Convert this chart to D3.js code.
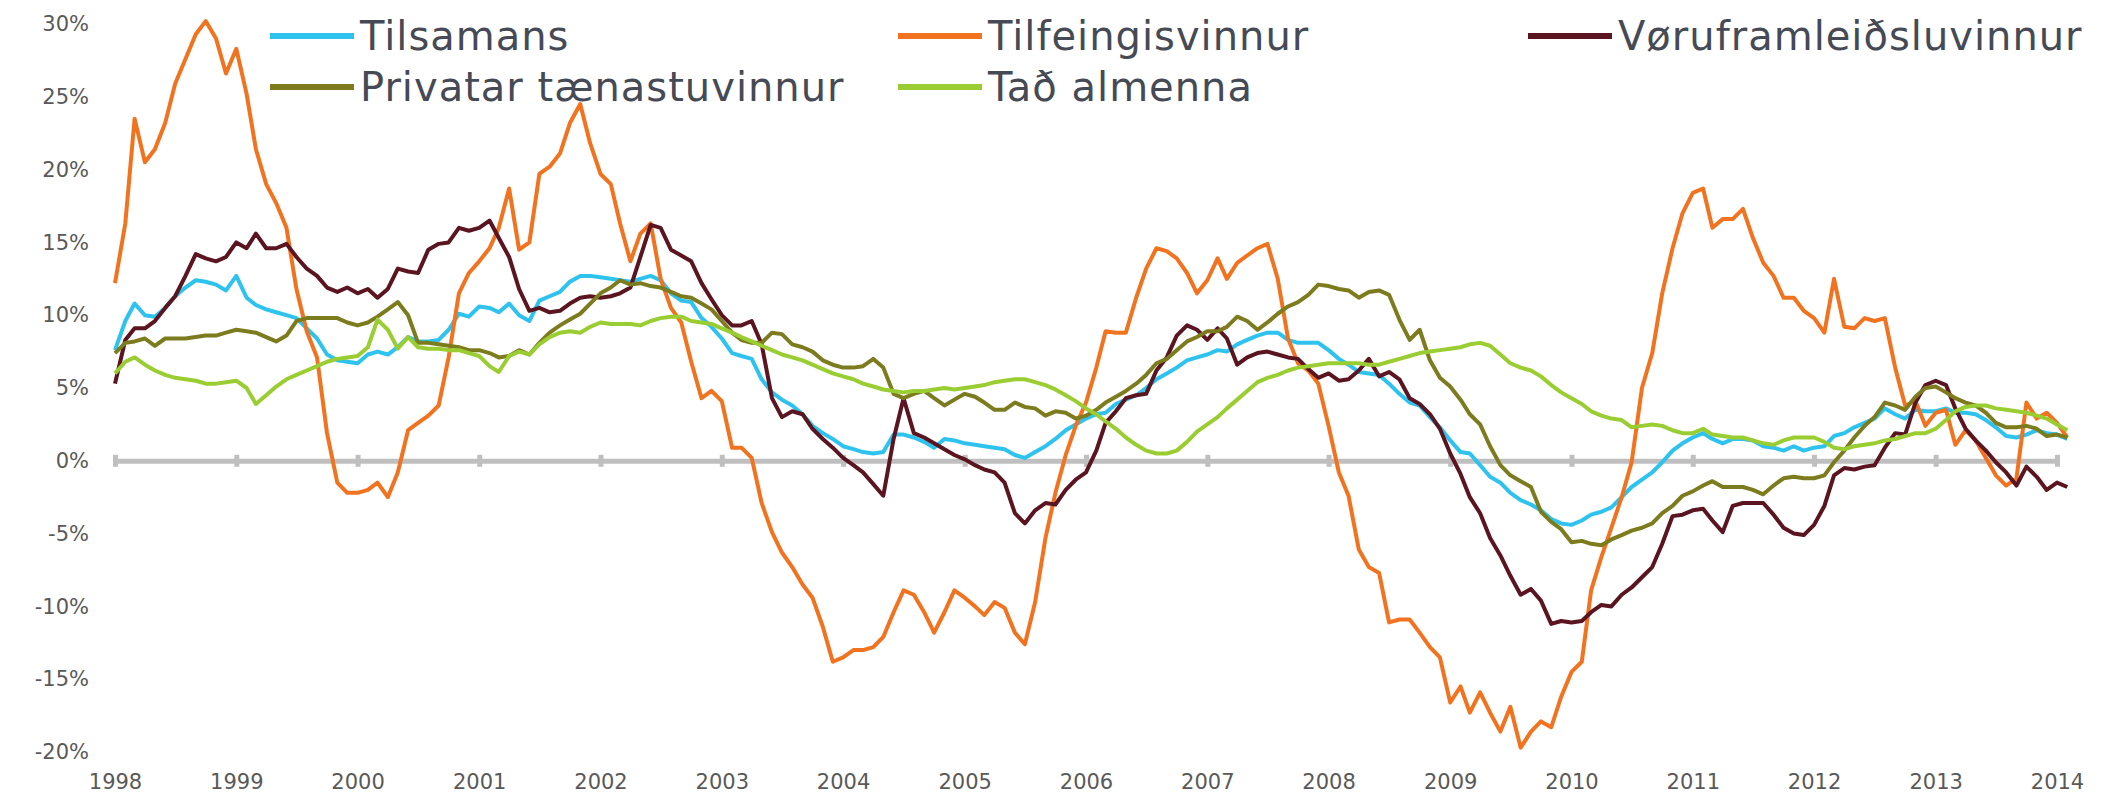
<!DOCTYPE html>
<html>
<head>
<meta charset="utf-8">
<script src="https://cdn.jsdelivr.net/npm/d3@7"></script>
<style>
  body { margin: 0; background: #fff; }
  svg { display: block; }
  text { font-family: Verdana, "DejaVu Sans", sans-serif; }
</style>
</head>
<body>
<script>
"use strict"

// monthly values, Jan 1998 .. Feb 2014 (194 months)
const startYear = 1998;
const nMonths = 194;
const months = d3.range(nMonths).map(i => new Date(startYear, i, 1));

const yearTicks = d3.range(1998, 2015);
const pctTicks = [30, 25, 20, 15, 10, 5, 0, -5, -10, -15, -20];

const names = ['Tilsamans', 'Tilfeingisvinnur', 'Vøruframleiðsluvinnur', 'Privatar tænastuvinnur', 'Tað almenna'];
const colors = ['#2ec3ee', '#f2731f', '#5a1520', '#7c7c1f', '#9acd32'];

const tilsamans = [
	7.6, 9.6, 10.8, 10.0, 9.9, 10.5, 11.3, 11.9, 12.4, 12.3,
	12.1, 11.7, 12.7, 11.2, 10.7, 10.4, 10.2, 10.0, 9.8, 9.1,
	8.4, 7.3, 6.9, 6.8, 6.7, 7.3, 7.5, 7.3, 7.8, 8.5,
	8.2, 8.2, 8.3, 9.0, 10.1, 9.9, 10.6, 10.5, 10.2, 10.8,
	10.0, 9.6, 11.0, 11.3, 11.6, 12.3, 12.7, 12.7, 12.6, 12.5,
	12.4, 12.3, 12.5, 12.7, 12.4, 11.5, 11.0, 10.9, 9.8, 9.2,
	8.4, 7.4, 7.2, 7.0, 5.6, 4.7, 4.2, 3.8, 3.2, 2.4,
	1.9, 1.5, 1.0, 0.8, 0.6, 0.5, 0.6, 1.8, 1.8, 1.6,
	1.3, 0.9, 1.5, 1.4, 1.2, 1.1, 1.0, 0.9, 0.8, 0.4,
	0.2, 0.6, 1.0, 1.5, 2.1, 2.5, 2.9, 3.2, 3.3, 3.9,
	4.2, 4.5, 5.0, 5.6, 6.0, 6.4, 6.9, 7.1, 7.3, 7.6,
	7.5, 8.0, 8.3, 8.6, 8.8, 8.8, 8.3, 8.1, 8.1, 8.1,
	7.6, 7.0, 6.6, 6.1, 6.0, 5.9, 5.3, 4.6, 4.0, 3.8,
	3.0, 2.3, 1.4, 0.6, 0.5, -0.3, -1.1, -1.5, -2.2, -2.7,
	-3.0, -3.4, -4.0, -4.3, -4.4, -4.1, -3.7, -3.5, -3.2, -2.5,
	-1.8, -1.3, -0.8, -0.1, 0.7, 1.2, 1.6, 1.9, 1.5, 1.2,
	1.5, 1.5, 1.4, 1.0, 0.9, 0.7, 1.0, 0.7, 0.9, 1.0,
	1.7, 1.9, 2.3, 2.6, 2.9, 3.6, 3.2, 2.9, 3.5, 3.4,
	3.4, 3.6, 3.3, 3.3, 3.2, 2.8, 2.3, 1.7, 1.6, 1.8,
	2.1, 1.9, 1.8, 1.5
];

const tilfeingis = [
	12.2, 16.3, 23.5, 20.5, 21.4, 23.2, 25.9, 27.6, 29.3, 30.2,
	29.0, 26.6, 28.3, 25.2, 21.4, 19.0, 17.7, 16.0, 11.8, 8.9,
	7.1, 1.9, -1.5, -2.2, -2.2, -2.0, -1.5, -2.5, -0.8, 2.1,
	2.6, 3.1, 3.8, 7.1, 11.5, 12.9, 13.7, 14.6, 16.0, 18.7,
	14.5, 15.0, 19.7, 20.2, 21.1, 23.2, 24.5, 21.8, 19.7, 19.0,
	16.3, 13.7, 15.6, 16.3, 12.5, 10.5, 9.5, 6.8, 4.3, 4.8,
	4.1, 0.9, 0.9, 0.2, -2.9, -4.9, -6.3, -7.3, -8.5, -9.4,
	-11.4, -13.8, -13.5, -13.0, -13.0, -12.8, -12.1, -10.4, -8.9, -9.2,
	-10.4, -11.8, -10.4, -8.9, -9.4, -10.0, -10.6, -9.7, -10.1, -11.8,
	-12.6, -9.7, -5.3, -2.2, 0.4, 2.4, 4.0, 6.4, 8.9, 8.8,
	8.8, 11.2, 13.2, 14.6, 14.4, 13.9, 12.9, 11.5, 12.4, 13.9,
	12.5, 13.6, 14.1, 14.6, 14.9, 12.5, 8.4, 6.7, 6.2, 5.3,
	2.4, -0.8, -2.4, -6.1, -7.3, -7.7, -11.1, -10.9, -10.9, -11.8,
	-12.8, -13.5, -16.6, -15.5, -17.3, -15.9, -17.3, -18.6, -16.9, -19.7,
	-18.6, -17.9, -18.3, -16.2, -14.5, -13.8, -8.9, -6.6, -4.6, -2.5,
	-0.1, 5.0, 7.4, 11.5, 14.6, 17.0, 18.4, 18.7, 16.0, 16.6,
	16.6, 17.3, 15.3, 13.6, 12.7, 11.2, 11.2, 10.3, 9.8, 8.8,
	12.5, 9.2, 9.1, 9.8, 9.6, 9.8, 6.4, 3.8, 4.1, 2.4,
	3.3, 3.5, 1.1, 2.1, 1.4, 0.2, -1.0, -1.7, -1.2, 4.0,
	2.9, 3.3, 2.6, 1.6
];

const voruframleidsla = [
	5.3, 8.3, 9.1, 9.1, 9.6, 10.5, 11.3, 12.7, 14.2, 13.9,
	13.7, 14.0, 15.0, 14.6, 15.6, 14.6, 14.6, 14.9, 14.0, 13.2,
	12.7, 11.9, 11.6, 11.9, 11.5, 11.8, 11.2, 11.8, 13.2, 13.0,
	12.9, 14.5, 14.9, 15.0, 16.0, 15.8, 16.0, 16.5, 15.3, 14.0,
	11.8, 10.3, 10.5, 10.2, 10.3, 10.8, 11.2, 11.3, 11.2, 11.3,
	11.5, 11.9, 14.0, 16.2, 16.0, 14.5, 14.1, 13.7, 12.2, 11.1,
	10.0, 9.3, 9.3, 9.6, 8.0, 4.3, 3.0, 3.4, 3.2, 2.2,
	1.5, 0.9, 0.2, -0.3, -0.8, -1.6, -2.4, 1.5, 4.3, 1.9,
	1.6, 1.2, 0.8, 0.4, 0.1, -0.3, -0.6, -0.8, -1.5, -3.6,
	-4.3, -3.4, -2.9, -3.0, -2.0, -1.3, -0.8, 0.7, 2.6, 3.4,
	4.3, 4.5, 4.6, 6.2, 7.1, 8.6, 9.3, 9.0, 8.3, 9.1,
	8.4, 6.6, 7.1, 7.4, 7.5, 7.3, 7.1, 7.0, 6.3, 5.7,
	6.0, 5.5, 5.6, 6.2, 7.0, 5.8, 6.1, 5.6, 4.3, 3.9,
	3.2, 2.2, 0.5, -0.9, -2.5, -3.6, -5.3, -6.5, -7.9, -9.2,
	-8.8, -9.6, -11.2, -11.0, -11.1, -11.0, -10.4, -9.9, -10.0, -9.2,
	-8.7, -8.0, -7.3, -5.7, -3.8, -3.7, -3.4, -3.3, -4.1, -4.9,
	-3.1, -2.9, -2.9, -2.9, -3.7, -4.6, -5.0, -5.1, -4.4, -3.1,
	-1.0, -0.5, -0.6, -0.4, -0.3, 0.9, 1.9, 1.8, 4.0, 5.2,
	5.5, 5.2, 3.6, 2.2, 1.4, 0.7, -0.1, -0.8, -1.7, -0.4,
	-1.1, -2.0, -1.5, -1.8
];

const privatar = [
	7.4, 8.1, 8.2, 8.4, 7.9, 8.4, 8.4, 8.4, 8.5, 8.6,
	8.6, 8.8, 9.0, 8.9, 8.8, 8.5, 8.2, 8.6, 9.6, 9.8,
	9.8, 9.8, 9.8, 9.5, 9.3, 9.5, 9.9, 10.4, 10.9, 10.0,
	8.1, 8.1, 8.0, 7.9, 7.8, 7.6, 7.6, 7.4, 7.1, 7.2,
	7.6, 7.3, 8.1, 8.8, 9.3, 9.7, 10.1, 10.8, 11.5, 11.9,
	12.4, 12.1, 12.2, 12.0, 11.9, 11.6, 11.3, 11.2, 10.8, 10.4,
	9.6, 8.8, 8.3, 8.1, 8.1, 8.8, 8.7, 8.0, 7.8, 7.5,
	6.9, 6.6, 6.4, 6.4, 6.5, 7.0, 6.4, 4.6, 4.3, 4.6,
	4.8, 4.3, 3.8, 4.2, 4.6, 4.4, 4.0, 3.5, 3.5, 4.0,
	3.7, 3.6, 3.1, 3.4, 3.3, 2.9, 3.1, 3.5, 4.0, 4.4,
	4.8, 5.3, 5.9, 6.7, 7.0, 7.6, 8.2, 8.5, 8.9, 8.9,
	9.2, 9.9, 9.6, 9.0, 9.5, 10.1, 10.6, 10.9, 11.4, 12.1,
	12.0, 11.8, 11.7, 11.2, 11.6, 11.7, 11.4, 9.7, 8.3, 9.0,
	6.9, 5.7, 5.1, 4.2, 3.2, 2.5, 1.0, -0.3, -1.0, -1.4,
	-1.8, -3.5, -4.2, -4.7, -5.6, -5.5, -5.7, -5.8, -5.4, -5.1,
	-4.8, -4.6, -4.3, -3.6, -3.1, -2.4, -2.1, -1.7, -1.4, -1.8,
	-1.8, -1.8, -2.0, -2.3, -1.7, -1.2, -1.1, -1.2, -1.2, -1.0,
	-0.1, 0.7, 1.6, 2.4, 3.0, 4.0, 3.8, 3.5, 4.4, 5.0,
	5.1, 4.7, 4.3, 4.0, 3.8, 3.3, 2.6, 2.3, 2.3, 2.4,
	2.2, 1.7, 1.8, 1.6
];

const almenna = [
	6.0, 6.8, 7.1, 6.6, 6.2, 5.9, 5.7, 5.6, 5.5, 5.3,
	5.3, 5.4, 5.5, 5.0, 3.9, 4.5, 5.1, 5.6, 5.9, 6.2,
	6.5, 6.8, 7.0, 7.1, 7.2, 7.8, 9.7, 9.0, 7.7, 8.5,
	7.8, 7.7, 7.7, 7.6, 7.6, 7.4, 7.2, 6.5, 6.1, 7.2,
	7.5, 7.3, 8.0, 8.5, 8.8, 8.9, 8.8, 9.2, 9.5, 9.4,
	9.4, 9.4, 9.3, 9.6, 9.8, 9.9, 9.9, 9.6, 9.5, 9.4,
	9.1, 8.8, 8.5, 8.2, 7.9, 7.6, 7.3, 7.1, 6.9, 6.6,
	6.3, 6.0, 5.8, 5.6, 5.3, 5.1, 4.9, 4.8, 4.7, 4.8,
	4.8, 4.9, 5.0, 4.9, 5.0, 5.1, 5.2, 5.4, 5.5, 5.6,
	5.6, 5.4, 5.2, 4.9, 4.5, 4.1, 3.6, 3.2, 2.7, 2.2,
	1.6, 1.1, 0.7, 0.5, 0.5, 0.7, 1.3, 2.0, 2.5, 3.0,
	3.6, 4.2, 4.8, 5.4, 5.7, 5.9, 6.2, 6.4, 6.5, 6.6,
	6.7, 6.7, 6.7, 6.7, 6.6, 6.6, 6.8, 7.0, 7.2, 7.4,
	7.5, 7.6, 7.7, 7.8, 8.0, 8.1, 7.9, 7.3, 6.7, 6.4,
	6.2, 5.8, 5.2, 4.7, 4.3, 3.9, 3.4, 3.1, 2.9, 2.8,
	2.3, 2.4, 2.5, 2.4, 2.1, 1.9, 1.9, 2.2, 1.8, 1.7,
	1.6, 1.6, 1.4, 1.2, 1.1, 1.4, 1.6, 1.6, 1.6, 1.3,
	0.9, 0.8, 1.0, 1.1, 1.2, 1.4, 1.5, 1.7, 1.9, 1.9,
	2.2, 2.8, 3.4, 3.7, 3.8, 3.8, 3.6, 3.5, 3.4, 3.3,
	3.1, 2.9, 2.5, 2.1
];

const seriesValues = [tilsamans, tilfeingis, voruframleidsla, privatar, almenna];

const w = 2120;
const h = 803;

const svg = d3.select('body')
	.append('svg')
	.attr('width', w)
	.attr('height', h);

const x = d3.scaleTime()
	.domain([new Date(1998, 0, 1), new Date(2014, 0, 1)])
	.range([115, 2057]);

const y = d3.scaleLinear()
	.domain([-20, 30])
	.range([752, 24]);

// y labels, no axis line
const yAxis = d3.axisLeft(y)
	.tickValues(pctTicks)
	.tickSize(0)
	.tickPadding(0)
	.tickFormat(d => d + '%');

svg.append('g')
	.attr('transform', 'translate(89,0)')
	.call(yAxis)
	.call(g => g.select('.domain').remove())
	.selectAll('text')
	.attr('fill', '#595959')
	.style('font-size', '21px');

// zero line with year ticks
const zeroAxis = d3.axisBottom(x)
	.tickValues(yearTicks.map(yr => new Date(yr, 0, 1)))
	.tickSizeInner(6)
	.tickSizeOuter(0)
	.tickFormat('');

svg.append('g')
	.attr('transform', 'translate(0,' + y(0) + ')')
	.call(zeroAxis)
	.call(g => g.select('.domain').attr('stroke', '#bfbfbf').attr('stroke-width', 5))
	.call(g => g.selectAll('.tick line')
		.attr('y1', -6)
		.attr('stroke', '#bfbfbf')
		.attr('stroke-width', 5));

// year labels at bottom
const xAxis = d3.axisBottom(x)
	.tickValues(yearTicks.map(yr => new Date(yr, 0, 1)))
	.tickSize(0)
	.tickPadding(0)
	.tickFormat(d3.timeFormat('%Y'));

svg.append('g')
	.attr('transform', 'translate(0,774)')
	.call(xAxis)
	.call(g => g.select('.domain').remove())
	.selectAll('text')
	.attr('fill', '#595959')
	.style('font-size', '21px');

const line = d3.line()
	.x((d, i) => x(months[i]))
	.y(d => y(d));

svg.selectAll('path.series')
	.data(seriesValues)
	.enter()
	.append('path')
	.attr('class', 'series')
	.attr('d', d => line(d))
	.attr('fill', 'none')
	.attr('stroke', (d, i) => colors[i])
	.attr('stroke-width', 4)
	.attr('stroke-linejoin', 'round');

// legend
const legendPos = [[270, 36], [898, 36], [1528, 36], [270, 87], [898, 87]];

const legend = svg.selectAll('g.legend')
	.data(names)
	.enter()
	.append('g')
	.attr('class', 'legend')
	.attr('transform', (d, i) => 'translate(' + legendPos[i][0] + ',' + legendPos[i][1] + ')');

legend.append('line')
	.attr('x1', 0)
	.attr('x2', 84)
	.attr('stroke', (d, i) => colors[i])
	.attr('stroke-width', 6);

legend.append('text')
	.attr('x', 90)
	.attr('dy', '0.35em')
	.attr('fill', '#464a54')
	.style('font-size', '40px')
	.style('letter-spacing', '1px')
	.text(d => d);
</script>
</body>
</html>
